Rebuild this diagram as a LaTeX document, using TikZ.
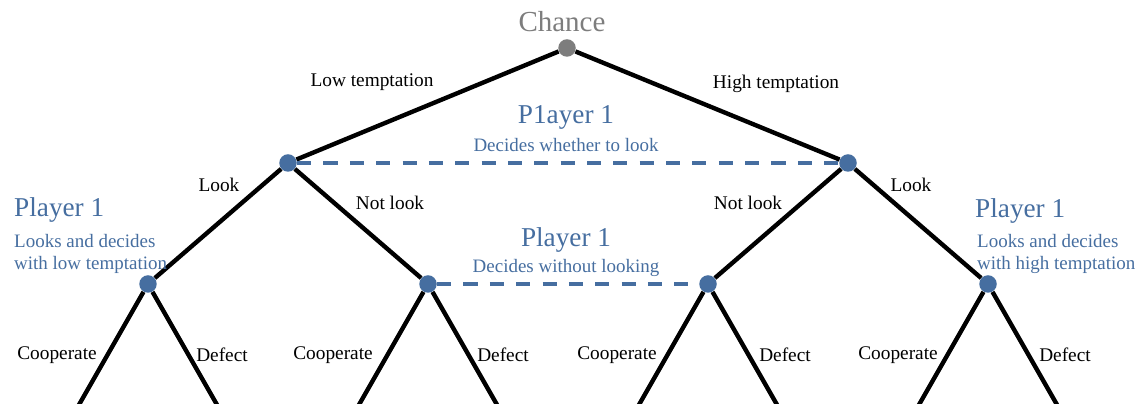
\documentclass[tikz,border=0pt]{standalone}
\usepackage{tikz}
\usepackage{fontspec}
\setmainfont{Liberation Serif}

\definecolor{pblue}{RGB}{70,110,160}
\definecolor{chgray}{RGB}{125,125,125}

\begin{document}
\begin{tikzpicture}[x=0.02cm,y=-0.02cm,
    dot/.style={circle,fill=pblue,inner sep=0pt,minimum size=0.35cm},
    branch/.style={line width=2.5pt,black},
    infoset/.style={pblue,line width=2.3pt,dash pattern=on 8pt off 7pt},
    lbl/.style={font=\fontsize{11}{13}\selectfont},
    who/.style={pblue,font=\fontsize{15.5}{17}\selectfont},
    what/.style={pblue,font=\fontsize{10.8}{12.6}\selectfont,align=left}]
    \useasboundingbox (0,0) rectangle (1140,404);

    \node[dot,fill=chgray] (chance) at (567,48) {};
    \node[dot] (lo) at (288,163) {};
    \node[dot] (hi) at (848,163) {};
    \node[dot] (lolook) at (148,284) {};
    \node[dot] (lonot) at (428,284) {};
    \node[dot] (hinot) at (708,284) {};
    \node[dot] (hilook) at (988,284) {};
    \foreach \n/\x in {lolook/148,lonot/428,hinot/708,hilook/988} {
        \coordinate (\n-c) at (\x-72,410);
        \coordinate (\n-d) at (\x+72,410);
    }

    \draw[branch] (chance) -- (lo);
    \draw[branch] (chance) -- (hi);
    \draw[branch] (lo) -- (lolook);
    \draw[branch] (lo) -- (lonot);
    \draw[branch] (hi) -- (hinot);
    \draw[branch] (hi) -- (hilook);
    \foreach \n in {lolook,lonot,hinot,hilook} {
        \draw[branch] (\n) -- (\n-c);
        \draw[branch] (\n) -- (\n-d);
    }
    \draw[infoset] (lo) -- (hi);
    \draw[infoset] (lonot) -- (hinot);

    \node[chgray,font=\fontsize{16.5}{18}\selectfont] (chtext) at (562,22) {Chance};
    \node[lbl] (lowt) at (372,82) {Low temptation};
    \node[lbl] (hight) at (776,84) {High temptation};

    \node[who] (p1top) at (566,117) {P1ayer 1};
    \node[what] (p1topd) at (566,145) {Decides whether to look};
    \node[who] (p1mid) at (566,240) {Player 1};
    \node[what] (p1midd) at (566,268) {Decides without looking};
    \node[who,anchor=west] (p1left) at (8,210) {Player 1};
    \node[what,anchor=north west] (p1leftd) at (8,228) {Looks and decides\\with low temptation};
    \node[who,anchor=west] (p1right) at (969,211) {Player 1};
    \node[what,anchor=north west] (p1rightd) at (971,228) {Looks and decides\\with high temptation};

    \node[lbl] (look1) at (219,185) {Look};
    \node[lbl] (nlook1) at (390,203) {Not look};
    \node[lbl] (nlook2) at (748,203) {Not look};
    \node[lbl] (look2) at (911,185) {Look};

    \foreach \x in {57,333,617,898}
        \node[lbl] at (\x,355) {Cooperate};
    \foreach \x in {222,503,785,1065}
        \node[lbl] at (\x,355) {Defect};
\end{tikzpicture}
\end{document}
